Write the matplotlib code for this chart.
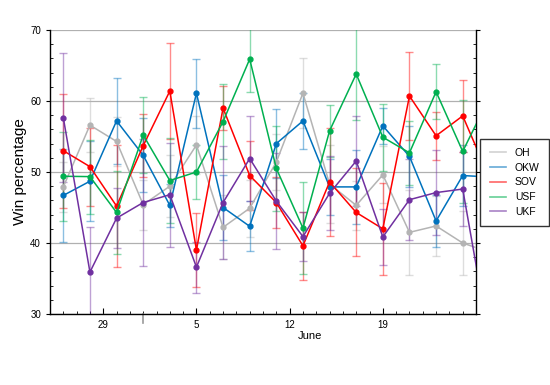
import datetime as dt

import matplotlib
matplotlib.use("Agg")
import matplotlib.dates as mdates
import matplotlib.pyplot as plt
from matplotlib.lines import Line2D
from matplotlib.ticker import MultipleLocator

plt.rcParams["font.family"] = ["Liberation Sans", "DejaVu Sans"]

# poll dates (every second day, last one runs past the right edge)
dates = ["05-26", "05-28", "05-30", "06-01", "06-03", "06-05", "06-07", "06-09",
         "06-11", "06-13", "06-15", "06-17", "06-19", "06-21", "06-23", "06-25", "06-27"]

series_names = ["OH", "OKW", "SOV", "USF", "UKF"]
oh = [47.9, 56.6, 54.3, 45.4, 48.0, 53.8, 42.2, 44.9, 51.4, 61.1, 48.3, 45.3, 49.6, 41.5, 42.4, 40.0, 38.7]
okw = [46.7, 48.7, 57.2, 52.35, 45.3, 61.1, 45.0, 42.35, 54.0, 57.2, 47.9, 47.9, 56.5, 52.2, 43.1, 49.5, 49.3]
sov = [53.0, 50.75, 45.2, 53.7, 61.4, 39.0, 59.0, 49.5, 45.7, 39.6, 48.6, 44.3, 42.0, 60.7, 55.1, 57.9, 49.2]
usf = [49.4, 49.35, 44.3, 55.2, 48.8, 50.0, 57.1, 65.9, 50.5, 42.1, 55.8, 63.8, 54.9, 52.7, 61.3, 52.9, 60.5]
ukf = [57.65, 35.9, 43.5, 45.7, 46.8, 36.6, 45.7, 51.9, 45.9, 40.9, 47.0, 51.55, 40.85, 46.1, 47.1, 47.6, 26.3]

oh_err = [3.5, 3.8, 3.5, 3.5, 4.4, 4.1, 4.5, 4.0, 4.0, 4.9, 5.5, 3.5, 4.0, 6.0, 4.2, 4.5, 5.0]
okw_err = [6.5, 5.6, 6.1, 5.2, 3.0, 4.85, 4.6, 3.5, 4.9, 3.9, 3.9, 5.2, 2.5, 4.3, 3.6, 4.3, 5.0]
sov_err = [8.0, 5.5, 8.6, 4.4, 6.7, 5.2, 3.1, 4.8, 3.6, 4.8, 7.6, 6.2, 6.5, 6.2, 3.4, 5.1, 5.0]
usf_err = [6.3, 5.2, 5.8, 5.3, 6.0, 3.8, 5.3, 4.7, 6.0, 6.5, 3.7, 6.5, 4.7, 4.5, 3.9, 7.2, 5.0]
ukf_err = [9.1, 6.4, 4.2, 9.0, 7.3, 3.6, 7.9, 6.0, 6.8, 3.4, 5.2, 6.3, 4.0, 5.7, 6.0, 5.2, 5.0]

colors = ["#b4b4b4", "#0072bd", "#ff0000", "#00b050", "#7030a0"]

x = [dt.datetime.strptime("2017-" + d, "%Y-%m-%d") for d in dates]
values = [oh, okw, sov, usf, ukf]
errors = [oh_err, okw_err, sov_err, usf_err, ukf_err]

fig = plt.figure(figsize=(5.5, 3.85), dpi=100)
ax = fig.add_axes([0.0909, 0.1844, 0.7746, 0.7377])

for vals, errs, c in zip(values, errors, colors):
    ax.errorbar(x, vals, yerr=errs, fmt="none", ecolor=c, elinewidth=1.0,
                capsize=3, capthick=1.0, alpha=0.45, zorder=2)
for vals, c in zip(values, colors):
    ax.plot(x, vals, color=c, lw=1.1, marker="o", ms=3.5, zorder=3)

ax.set_xlim(dt.datetime(2017, 5, 25), dt.datetime(2017, 6, 26))
ax.set_ylim(30, 70)

ax.xaxis.set_major_locator(mdates.DayLocator(bymonthday=[5, 12, 19, 29]))
ax.xaxis.set_major_formatter(mdates.DateFormatter("%-d"))
ax.xaxis.set_minor_locator(mdates.DayLocator())
ax.yaxis.set_major_locator(MultipleLocator(10))
ax.yaxis.set_minor_locator(MultipleLocator(2))

ax.tick_params(axis="x", which="major", direction="in", length=4, labelsize=7, pad=4)
ax.tick_params(axis="x", which="minor", direction="in", length=2)
ax.tick_params(axis="y", which="major", direction="out", length=3, labelsize=7, right=True)
ax.tick_params(axis="y", which="minor", direction="in", length=2.5, right=True)

ax.grid(axis="y", which="major", color="#b0b0b0", lw=0.9)
ax.set_axisbelow(True)
ax.spines["top"].set_visible(False)
for s in ["left", "bottom", "right"]:
    ax.spines[s].set_linewidth(1.0)

# month boundary marker
ax.axvline(dt.datetime(2017, 6, 1), ymin=-0.03, ymax=0.0, color="#999999", lw=1.2, clip_on=False)
june_start = mdates.date2num(dt.datetime(2017, 6, 1))
june_end = mdates.date2num(dt.datetime(2017, 6, 26))
ax.text((june_start + june_end) / 2, -0.078, "June", transform=ax.get_xaxis_transform(),
        ha="center", va="center", fontsize=8)

ax.set_ylabel("Win percentage", fontsize=11, labelpad=2)

handles = [Line2D([], [], color=c, lw=1.2, alpha=0.6) for c in colors]
leg = fig.legend(handles, series_names, loc="center left", bbox_to_anchor=(0.864, 0.526),
                 fontsize=7.5, frameon=True, fancybox=False, edgecolor="black",
                 handlelength=1.6, borderpad=0.9, labelspacing=0.45)
leg.get_frame().set_linewidth(1.0)

fig.savefig("out.png", dpi=100)
